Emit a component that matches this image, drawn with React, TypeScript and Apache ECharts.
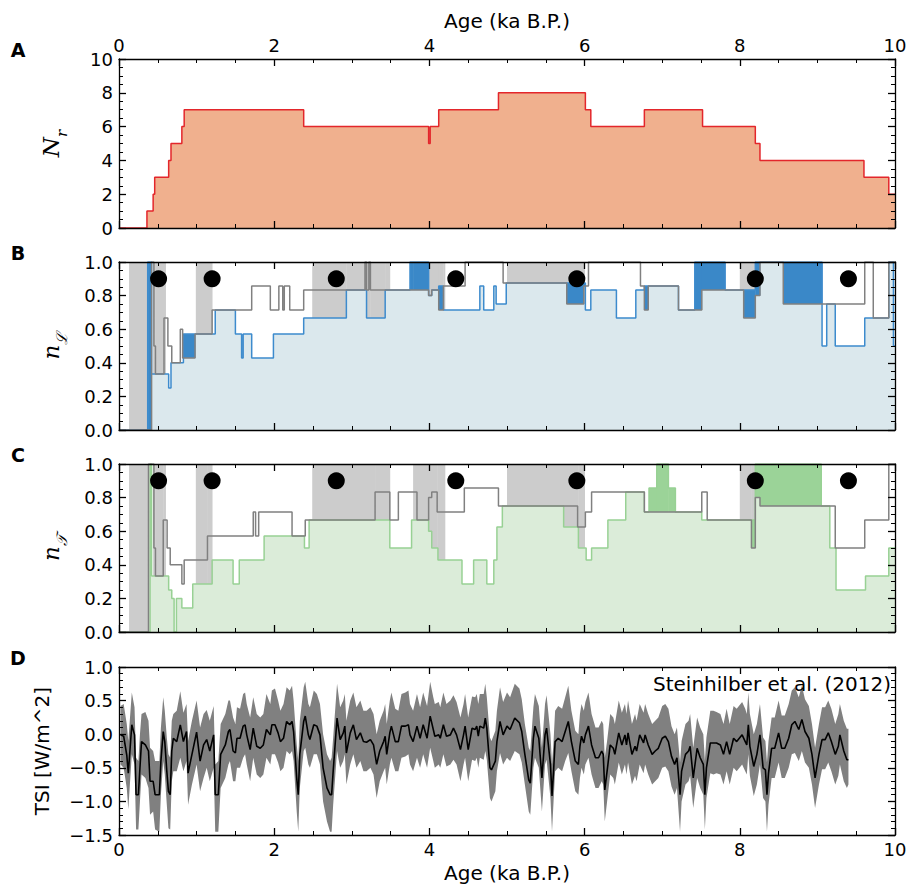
import React, { useEffect, useRef } from 'react';
import * as echarts from 'echarts';

// ---------- Panel A: number of records N_r (step function) ----------
const nrAges = [0, 0.36, 0.44, 0.46, 0.64, 0.67, 0.81, 0.84, 2.38, 3.99, 4.01, 4.12, 4.89, 6.01, 6.08, 6.77, 7.52, 8.2, 8.26, 9.6, 9.92, 10];
const nrVals = [0, 1, 2, 3, 4, 5, 6, 7, 6, 5, 6, 7, 8, 7, 6, 7, 6, 5, 4, 3, 2, 2];

// ---------- Panel B: n_L (blue) and reference (grey) ----------
const blueAges = [0, 0.37, 0.42, 0.64, 0.67, 0.83, 1.24, 1.5, 1.58, 1.6, 1.71, 1.99, 2.38, 2.93, 3.19, 3.43, 3.75, 3.99, 4.03, 4.12, 4.18, 4.65, 4.7, 4.83, 4.86, 4.99, 6.01, 6.08, 6.41, 6.66, 6.77, 7.21, 7.42, 7.81, 8.2, 9.06, 9.12, 9.23, 9.61, 9.92, 9.98, 10];
const blueVals = [0, 1, 0.333, 0.25, 0.4, 0.571, 0.714, 0.571, 0.429, 0.571, 0.429, 0.571, 0.667, 0.833, 0.667, 0.833, 1, 0.8, 0.833, 0.857, 0.714, 0.857, 0.714, 0.857, 0.75, 0.875, 0.714, 0.833, 0.667, 0.833, 0.857, 0.714, 1, 0.833, 1, 0.5, 0.75, 0.5, 0.667, 1, 0.5, 0.5];
const greyBAges = [0, 0.42, 0.45, 0.47, 0.58, 0.63, 0.68, 0.79, 0.82, 0.98, 1.2, 1.71, 1.95, 2.06, 2.11, 2.13, 2.2, 2.38, 3.17, 3.19, 3.22, 3.24, 3.99, 4.03, 4.12, 4.18, 4.46, 4.95, 5.77, 5.99, 6.05, 6.72, 6.77, 6.82, 7.21, 7.51, 8.05, 8.2, 8.26, 8.56, 9.61, 9.72, 9.92, 10];
const greyBVals = [0, 1, 0.5, 0.333, 0.667, 0.5, 0.4, 0.6, 0.429, 0.571, 0.714, 0.857, 0.714, 0.857, 0.714, 0.857, 0.714, 0.833, 1, 0.833, 1, 0.833, 0.8, 0.833, 0.714, 0.857, 1, 0.875, 0.75, 0.857, 1, 0.857, 0.714, 0.857, 0.714, 0.833, 0.667, 0.8, 1, 0.75, 1, 0.667, 1, 1];

// ---------- Panel C: n_T (green) and reference (grey) ----------
const greenAges = [0, 0.4, 0.42, 0.64, 0.68, 0.71, 0.74, 0.81, 0.95, 1.2, 1.47, 1.55, 1.87, 2.39, 2.45, 3.49, 3.77, 3.99, 4.03, 4.11, 4.42, 4.57, 4.74, 4.83, 4.87, 4.94, 5.73, 5.92, 6.02, 6.09, 6.3, 6.53, 6.77, 6.83, 6.93, 7.08, 7.17, 7.51, 8.2, 9.05, 9.16, 9.24, 9.62, 9.92, 10];
const greenVals = [0, 1, 0.333, 0.25, 0.2, 0, 0.2, 0.143, 0.286, 0.429, 0.286, 0.429, 0.571, 0.5, 0.667, 0.5, 0.667, 0.6, 0.5, 0.429, 0.286, 0.429, 0.286, 0.429, 0.625, 0.75, 0.625, 0.5, 0.429, 0.5, 0.667, 0.833, 0.714, 0.857, 1, 0.857, 0.714, 0.667, 1, 0.75, 0.5, 0.25, 0.333, 0.5, 0.5];
const greyCAges = [0, 0.38, 0.45, 0.47, 0.57, 0.62, 0.66, 0.81, 0.84, 1.14, 1.73, 1.76, 1.8, 2.23, 2.4, 3.3, 3.49, 3.6, 3.84, 3.99, 4.03, 4.1, 4.45, 4.89, 5.91, 6.01, 6.09, 6.77, 7.51, 7.58, 8.15, 8.2, 8.26, 9.23, 9.61, 9.92, 10];
const greyCVals = [0, 1, 0.5, 0.333, 0.667, 0.5, 0.4, 0.286, 0.429, 0.571, 0.714, 0.571, 0.714, 0.571, 0.667, 0.833, 0.667, 0.833, 0.667, 0.8, 0.833, 0.714, 0.857, 0.75, 0.625, 0.714, 0.833, 0.714, 0.833, 0.667, 0.5, 0.8, 0.75, 0.5, 0.667, 1, 1];

// shaded (grey) periods and event markers, shared by B and C
const greyPeriods: [number, number][] = [[0.13, 0.38], [0.44, 0.6], [0.99, 1.2], [2.49, 3.49], [3.79, 4.2], [5.0, 6.0], [8.0, 8.22]];
const dotAges = [0.51, 1.2, 2.8, 4.34, 5.9, 8.2, 9.4];
const dotLevel = 0.9;

// ---------- Panel D: TSI reconstruction ----------
const tsiAge = [0.02, 0.06, 0.1, 0.12, 0.165, 0.2, 0.22, 0.25, 0.27, 0.29, 0.34, 0.38, 0.4, 0.44, 0.465, 0.52, 0.54, 0.57, 0.59, 0.616, 0.637, 0.66, 0.68, 0.7, 0.744, 0.79, 0.83, 0.87, 0.89, 0.94, 1.0, 1.045, 1.09, 1.13, 1.17, 1.22, 1.24, 1.28, 1.31, 1.37, 1.41, 1.43, 1.47, 1.5, 1.52, 1.56, 1.6, 1.625, 1.646, 1.69, 1.73, 1.775, 1.82, 1.86, 1.9, 1.95, 1.97, 2.01, 2.05, 2.08, 2.12, 2.16, 2.2, 2.23, 2.25, 2.29, 2.31, 2.33, 2.38, 2.4, 2.44, 2.46, 2.51, 2.55, 2.59, 2.63, 2.68, 2.72, 2.74, 2.76, 2.81, 2.85, 2.89, 2.91, 2.93, 2.98, 3.02, 3.06, 3.11, 3.15, 3.19, 3.24, 3.28, 3.32, 3.36, 3.41, 3.43, 3.45, 3.49, 3.51, 3.56, 3.6, 3.64, 3.69, 3.73, 3.75, 3.79, 3.84, 3.88, 3.92, 3.97, 4.01, 4.05, 4.07, 4.12, 4.14, 4.18, 4.22, 4.27, 4.31, 4.35, 4.4, 4.44, 4.46, 4.5, 4.55, 4.59, 4.61, 4.63, 4.65, 4.7, 4.72, 4.74, 4.78, 4.8, 4.85, 4.87, 4.91, 4.95, 5.0, 5.04, 5.1, 5.16, 5.19, 5.23, 5.28, 5.3, 5.34, 5.36, 5.41, 5.45, 5.49, 5.51, 5.56, 5.58, 5.6, 5.62, 5.66, 5.71, 5.75, 5.79, 5.83, 5.88, 5.92, 5.94, 5.96, 5.99, 6.01, 6.05, 6.09, 6.14, 6.18, 6.22, 6.24, 6.26, 6.29, 6.33, 6.37, 6.39, 6.44, 6.48, 6.52, 6.54, 6.56, 6.61, 6.65, 6.67, 6.71, 6.76, 6.78, 6.82, 6.87, 6.91, 6.95, 7.0, 7.04, 7.08, 7.12, 7.16, 7.19, 7.23, 7.25, 7.3, 7.34, 7.36, 7.4, 7.45, 7.49, 7.53, 7.55, 7.57, 7.62, 7.66, 7.7, 7.75, 7.79, 7.83, 7.87, 7.92, 7.96, 8.03, 8.07, 8.09, 8.11, 8.13, 8.18, 8.22, 8.26, 8.3, 8.33, 8.35, 8.37, 8.41, 8.45, 8.5, 8.54, 8.58, 8.63, 8.67, 8.71, 8.76, 8.8, 8.84, 8.89, 8.93, 8.97, 9.02, 9.06, 9.1, 9.14, 9.18, 9.23, 9.27, 9.29, 9.34, 9.38, 9.4];
const tsiMean = [-0.01, -0.03, -0.31, -0.58, 0.14, -0.01, -0.9, -0.9, -0.5, -0.11, -0.16, -0.25, -0.7, -0.7, -0.9, -0.9, -0.4, 0.04, -0.11, -0.55, -0.85, -0.9, -0.25, -0.06, -0.11, 0.14, -0.11, 0.04, -0.58, -0.3, 0.03, -0.4, -0.16, -0.08, -0.25, -0.01, -0.9, -0.9, -0.3, -0.16, 0.04, 0.07, -0.25, -0.28, -0.06, -0.06, 0.12, 0.14, -0.01, -0.23, 0.09, -0.18, -0.21, -0.16, 0.07, -0.01, 0.14, 0.14, 0.02, -0.11, -0.06, 0.19, 0.14, 0.19, 0.04, -0.65, -0.9, -0.3, 0.19, 0.27, -0.01, -0.08, 0.14, 0.12, -0.01, -0.5, -0.8, -0.9, -0.9, -0.55, 0.24, -0.08, 0.02, 0.12, -0.28, 0.02, 0.14, -0.08, 0.02, -0.11, -0.12, -0.08, -0.16, -0.45, -0.25, -0.11, -0.03, -0.3, 0.02, 0.12, -0.11, -0.11, 0.12, 0.12, 0.14, -0.01, -0.11, 0.12, -0.06, 0.14, -0.06, 0.27, 0.07, -0.03, -0.01, -0.06, 0.14, -0.03, -0.01, 0.09, -0.01, -0.23, -0.01, 0.12, -0.23, 0.09, 0.07, 0.12, -0.03, 0.12, 0.09, 0.24, 0.09, -0.5, -0.53, -0.4, -0.11, 0.19, -0.01, 0.12, 0.07, 0.24, 0.17, 0.04, -0.3, -0.68, -0.73, -0.06, 0.12, -0.06, -0.65, -0.01, 0.09, -0.45, -0.92, -0.55, -0.11, -0.06, -0.11, 0.04, 0.19, -0.11, -0.4, -0.45, -0.18, -0.03, -0.13, -0.01, 0.12, -0.16, -0.35, -0.35, -0.25, -0.3, -0.83, -0.55, -0.16, -0.21, -0.3, 0.02, -0.16, -0.01, -0.16, 0.02, -0.3, -0.18, -0.25, -0.01, -0.13, -0.01, -0.16, -0.3, -0.25, -0.21, -0.06, -0.03, -0.11, -0.33, -0.45, -0.35, -0.9, -0.55, -0.3, -0.25, -0.18, -0.65, -0.21, -0.35, -0.45, -0.9, -0.5, -0.13, -0.13, -0.13, -0.16, -0.3, -0.11, -0.3, -0.06, -0.11, -0.01, -0.11, -0.16, 0.14, -0.18, -0.48, -0.3, -0.01, -0.5, -0.53, -0.9, -0.58, -0.21, -0.21, 0.02, -0.21, -0.21, -0.06, 0.14, 0.19, 0.07, 0.22, 0.04, -0.06, -0.3, -0.65, -0.3, -0.08, -0.08, 0.02, -0.11, -0.3, -0.18, -0.01, -0.25, -0.38, -0.38];
const tsiUpper = [0.42, 0.45, 0.15, -0.1, 0.62, 0.4, -0.35, -0.4, 0.0, 0.3, 0.33, 0.2, -0.2, -0.25, -0.4, -0.4, 0.1, 0.55, 0.35, -0.05, -0.3, -0.35, 0.2, 0.3, 0.35, 0.64, 0.32, 0.45, -0.1, 0.2, 0.5, 0.1, 0.3, 0.36, 0.2, 0.42, -0.45, -0.4, 0.15, 0.3, 0.5, 0.5, 0.25, 0.15, 0.4, 0.38, 0.6, 0.62, 0.45, 0.25, 0.55, 0.3, 0.25, 0.3, 0.6, 0.45, 0.65, 0.68, 0.5, 0.35, 0.45, 0.7, 0.65, 0.72, 0.5, -0.15, -0.4, 0.2, 0.7, 0.78, 0.45, 0.4, 0.65, 0.6, 0.45, 0.0, -0.3, -0.4, -0.35, -0.05, 0.75, 0.4, 0.5, 0.6, 0.2, 0.5, 0.62, 0.4, 0.5, 0.35, 0.35, 0.4, 0.3, 0.0, 0.2, 0.35, 0.45, 0.15, 0.5, 0.62, 0.38, 0.35, 0.6, 0.62, 0.65, 0.45, 0.35, 0.6, 0.4, 0.62, 0.42, 0.78, 0.55, 0.45, 0.48, 0.4, 0.62, 0.45, 0.5, 0.58, 0.48, 0.25, 0.45, 0.6, 0.25, 0.56, 0.55, 0.6, 0.45, 0.6, 0.6, 0.75, 0.55, -0.05, -0.1, 0.05, 0.35, 0.7, 0.48, 0.62, 0.55, 0.75, 0.68, 0.52, 0.15, -0.2, -0.25, 0.4, 0.6, 0.42, -0.2, 0.45, 0.58, 0.0, -0.45, -0.1, 0.35, 0.42, 0.38, 0.55, 0.72, 0.35, 0.05, 0.0, 0.3, 0.45, 0.35, 0.48, 0.62, 0.3, 0.1, 0.1, 0.2, 0.15, -0.35, -0.1, 0.3, 0.25, 0.15, 0.5, 0.32, 0.45, 0.3, 0.5, 0.15, 0.3, 0.2, 0.45, 0.32, 0.45, 0.3, 0.15, 0.2, 0.25, 0.42, 0.45, 0.38, 0.12, 0.0, 0.1, -0.42, -0.1, 0.15, 0.2, 0.3, -0.2, 0.25, 0.1, 0.0, -0.4, -0.05, 0.35, 0.35, 0.33, 0.3, 0.15, 0.38, 0.15, 0.42, 0.38, 0.48, 0.38, 0.3, 0.62, 0.3, 0.0, 0.15, 0.45, -0.05, -0.1, -0.42, -0.1, 0.25, 0.25, 0.5, 0.28, 0.28, 0.45, 0.65, 0.7, 0.55, 0.72, 0.52, 0.42, 0.15, -0.2, 0.15, 0.4, 0.4, 0.5, 0.38, 0.15, 0.3, 0.45, 0.2, 0.08, 0.08];
const tsiLower = [-0.45, -0.5, -0.8, -1.12, -0.3, -0.45, -1.42, -1.42, -1.0, -0.6, -0.65, -0.8, -1.2, -1.15, -1.42, -1.45, -0.9, -0.4, -0.6, -1.05, -1.4, -1.42, -0.7, -0.55, -0.55, -0.35, -0.55, -0.4, -1.05, -0.75, -0.45, -0.85, -0.65, -0.5, -0.7, -0.5, -1.45, -1.45, -0.8, -0.65, -0.45, -0.4, -0.7, -0.7, -0.5, -0.5, -0.35, -0.3, -0.45, -0.7, -0.35, -0.6, -0.65, -0.6, -0.35, -0.45, -0.3, -0.3, -0.42, -0.55, -0.5, -0.25, -0.3, -0.25, -0.4, -1.15, -1.45, -0.8, -0.25, -0.2, -0.45, -0.5, -0.3, -0.3, -0.45, -1.0, -1.3, -1.45, -1.45, -1.05, -0.25, -0.5, -0.4, -0.3, -0.75, -0.45, -0.3, -0.5, -0.4, -0.55, -0.55, -0.5, -0.6, -0.95, -0.7, -0.55, -0.5, -0.75, -0.45, -0.35, -0.55, -0.55, -0.35, -0.33, -0.3, -0.45, -0.55, -0.35, -0.5, -0.3, -0.5, -0.2, -0.4, -0.5, -0.45, -0.5, -0.3, -0.48, -0.45, -0.38, -0.45, -0.7, -0.45, -0.35, -0.7, -0.38, -0.4, -0.35, -0.5, -0.35, -0.38, -0.25, -0.38, -0.95, -1.0, -0.85, -0.55, -0.28, -0.45, -0.35, -0.4, -0.25, -0.3, -0.42, -0.75, -1.15, -1.2, -0.5, -0.35, -0.5, -1.15, -0.45, -0.38, -0.95, -1.45, -1.0, -0.55, -0.5, -0.55, -0.4, -0.28, -0.55, -0.85, -0.9, -0.65, -0.5, -0.6, -0.45, -0.35, -0.6, -0.8, -0.8, -0.7, -0.75, -1.3, -1.0, -0.6, -0.65, -0.75, -0.42, -0.6, -0.45, -0.6, -0.42, -0.75, -0.62, -0.7, -0.45, -0.58, -0.45, -0.6, -0.75, -0.7, -0.65, -0.5, -0.48, -0.55, -0.78, -0.9, -0.8, -1.45, -1.0, -0.75, -0.7, -0.62, -1.1, -0.65, -0.8, -0.9, -1.42, -0.95, -0.58, -0.6, -0.58, -0.6, -0.75, -0.55, -0.75, -0.5, -0.55, -0.45, -0.55, -0.6, -0.3, -0.62, -0.92, -0.75, -0.45, -0.95, -1.0, -1.45, -1.05, -0.65, -0.65, -0.42, -0.65, -0.65, -0.5, -0.3, -0.28, -0.4, -0.25, -0.42, -0.5, -0.75, -1.1, -0.75, -0.52, -0.52, -0.42, -0.55, -0.75, -0.62, -0.45, -0.7, -0.8, -0.75];

// ---------- axes / labels ----------
const ageLabel = 'Age (ka B.P.)';
const panelLetters = ['A', 'B', 'C', 'D'];
const sourceNote = 'Steinhilber et al. (2012)';

const FONT = 'DejaVu Sans';
const AX = '#000';
const TICK_FS = 18;
const NAME_FS = 20;
const GRID_TOPS = [59, 262, 464, 667];
const GRID_HEIGHTS = [169, 168, 168, 168];

function valueAt(ages: number[], vals: number[], x: number) {
  let v = vals[0];
  for (let i = 0; i < ages.length; i++) {
    if (ages[i] <= x) v = vals[i];
    else break;
  }
  return v;
}

function buildFills(cA: number[], cV: number[], gA: number[], gV: number[], periods: [number, number][]) {
  const xs = Array.from(new Set([...cA, ...gA, ...periods.flat()])).sort((a, b) => a - b);
  const dark: number[][] = [];
  const shade: number[][] = [];
  for (let i = 0; i < xs.length - 1; i++) {
    const a = xs[i], b = xs[i + 1];
    if (b <= a) continue;
    const m = (a + b) / 2;
    const c = valueAt(cA, cV, m);
    const g = valueAt(gA, gV, m);
    if (c > g) dark.push([a, b, g, c]);
    if (periods.some(([s, e]) => m > s && m < e) && c < 1) shade.push([a, b, c, 1]);
  }
  return { dark, shade };
}

const pairs = (a: number[], v: number[]) => a.map((x, i) => [x, v[i]]);

function rectSeries(data: number[][], color: string, axis: number, z: number) {
  return {
    type: 'custom',
    xAxisIndex: axis * 2,
    yAxisIndex: axis * 2,
    data,
    z,
    silent: true,
    encode: { x: [0, 1], y: [2, 3] },
    renderItem: (_p: any, api: any) => {
      const p0 = api.coord([api.value(0), api.value(3)]);
      const p1 = api.coord([api.value(1), api.value(2)]);
      return {
        type: 'rect',
        shape: { x: p0[0], y: p0[1], width: p1[0] - p0[0] + 0.4, height: p1[1] - p0[1] },
        style: { fill: color },
      };
    },
  };
}

function mkX(grid: number, pos: 'top' | 'bottom', labels: boolean) {
  return {
    type: 'value', gridIndex: grid, position: pos, min: 0, max: 10, interval: 2, z: 10,
    axisLine: { show: true, onZero: false, lineStyle: { color: AX, width: 1.3 } },
    axisTick: { show: true, inside: true, length: 7, lineStyle: { color: AX, width: 1.3 } },
    minorTick: { show: true, splitNumber: 4, length: 4, lineStyle: { color: AX, width: 1 } },
    splitLine: { show: false },
    axisLabel: { show: labels, fontSize: TICK_FS, color: AX, fontFamily: FONT, margin: 5 },
    name: labels ? ageLabel : '',
    nameLocation: 'middle',
    nameGap: 28,
    nameTextStyle: { fontSize: NAME_FS, color: AX, fontFamily: FONT },
  };
}

function mkY(grid: number, pos: 'left' | 'right', labels: boolean, min: number, max: number, interval: number,
  minorSplit: number, fmt: (v: number) => string, name = '', nameGap = 50, rich: any = undefined) {
  return {
    type: 'value', gridIndex: grid, position: pos, min, max, interval, z: 10,
    axisLine: { show: true, onZero: false, lineStyle: { color: AX, width: 1.3 } },
    axisTick: { show: true, inside: true, length: 7, lineStyle: { color: AX, width: 1.3 } },
    minorTick: { show: true, splitNumber: minorSplit, length: 4, lineStyle: { color: AX, width: 1 } },
    splitLine: { show: false },
    axisLabel: { show: labels, fontSize: TICK_FS, color: AX, fontFamily: FONT, margin: 6, formatter: fmt },
    name: labels ? name : '',
    nameLocation: 'middle',
    nameRotate: 90,
    nameGap,
    nameTextStyle: { fontSize: NAME_FS, color: AX, fontFamily: FONT, rich },
  };
}

const fmt1 = (v: number) => (v < 0 ? '\u2212' + Math.abs(v).toFixed(1) : v.toFixed(1));
const fmt0 = (v: number) => String(Math.round(v));

const richName = {
  i: { fontSize: 23, fontStyle: 'italic', fontFamily: 'DejaVu Serif', color: AX, lineHeight: 30, verticalAlign: 'top' },
  s: { fontSize: 15, fontStyle: 'italic', fontFamily: 'DejaVu Serif', color: AX, lineHeight: 30, verticalAlign: 'bottom' },
};

export default function App() {
  const ref = useRef<HTMLDivElement>(null);
  useEffect(() => {
    if (!ref.current) return;
    const chart = echarts.init(ref.current, undefined, { renderer: 'svg' });

    const fillB = buildFills(blueAges, blueVals, greyBAges, greyBVals, greyPeriods);
    const fillC = buildFills(greenAges, greenVals, greyCAges, greyCVals, greyPeriods);

    const grids = GRID_TOPS.map((t, i) => ({ left: 119, width: 776, top: t, height: GRID_HEIGHTS[i], containLabel: false }));

    const xAxis = [
      mkX(0, 'bottom', false), mkX(0, 'top', true),
      mkX(1, 'bottom', false), mkX(1, 'top', false),
      mkX(2, 'bottom', false), mkX(2, 'top', false),
      mkX(3, 'bottom', true), mkX(3, 'top', false),
    ];
    const yAxis = [
      mkY(0, 'left', true, 0, 10, 2, 4, fmt0, '{i|N}{s|r}', 50, richName), mkY(0, 'right', false, 0, 10, 2, 4, fmt0),
      mkY(1, 'left', true, 0, 1, 0.2, 4, fmt1, '{i|n}{s|\u2112}', 50, richName), mkY(1, 'right', false, 0, 1, 0.2, 4, fmt1),
      mkY(2, 'left', true, 0, 1, 0.2, 4, fmt1, '{i|n}{s|\uD835\uDCAF}', 50, richName), mkY(2, 'right', false, 0, 1, 0.2, 4, fmt1),
      mkY(3, 'left', true, -1.5, 1.0, 0.5, 5, fmt1, 'TSI [W/m^2]', 67), mkY(3, 'right', false, -1.5, 1.0, 0.5, 5, fmt1),
    ];

    const stepLine = (data: number[][], axis: number, color: string, z: number, width = 1.5) => ({
      type: 'line', xAxisIndex: axis * 2, yAxisIndex: axis * 2, data, step: 'end', showSymbol: false, symbol: 'none',
      lineStyle: { color, width }, z, silent: true,
    });
    const stepArea = (data: number[][], axis: number, color: string, z: number) => ({
      type: 'line', xAxisIndex: axis * 2, yAxisIndex: axis * 2, data, step: 'end', showSymbol: false, symbol: 'none',
      lineStyle: { width: 0, opacity: 0 }, areaStyle: { color, opacity: 1 }, z, silent: true,
    });
    const dots = (axis: number) => ({
      type: 'scatter', xAxisIndex: axis * 2, yAxisIndex: axis * 2, data: dotAges.map((a) => [a, dotLevel]),
      symbolSize: 17, itemStyle: { color: '#000', opacity: 1 }, z: 8, silent: true,
    });

    const series: any[] = [
      // Panel A
      stepArea(pairs(nrAges, nrVals), 0, '#f0b08e', 1),
      stepLine(pairs(nrAges, nrVals), 0, '#e3262b', 3),
      // Panel B
      stepArea(pairs(blueAges, blueVals), 1, '#dbe8ed', 1),
      rectSeries(fillB.shade, '#cccccc', 1, 2),
      rectSeries(fillB.dark, '#3a88c8', 1, 3),
      stepLine(pairs(blueAges, blueVals), 1, '#3d8bcd', 4),
      stepLine(pairs(greyBAges, greyBVals), 1, '#808080', 5),
      dots(1),
      // Panel C
      stepArea(pairs(greenAges, greenVals), 2, '#dbecd9', 1),
      rectSeries(fillC.shade, '#cccccc', 2, 2),
      rectSeries(fillC.dark, '#9bd398', 2, 3),
      stepLine(pairs(greenAges, greenVals), 2, '#98d194', 4),
      stepLine(pairs(greyCAges, greyCVals), 2, '#808080', 5),
      dots(2),
      // Panel D
      {
        type: 'custom', xAxisIndex: 6, yAxisIndex: 6, z: 2, silent: true,
        data: tsiAge.map((a, i) => [a, tsiUpper[i], tsiLower[i]]),
        encode: { x: 0, y: [1, 2] },
        renderItem: (p: any, api: any) => {
          if (p.dataIndex !== 0) return null;
          const pts: number[][] = [];
          for (let i = 0; i < tsiAge.length; i++) pts.push(api.coord([tsiAge[i], tsiUpper[i]]));
          for (let i = tsiAge.length - 1; i >= 0; i--) pts.push(api.coord([tsiAge[i], tsiLower[i]]));
          return { type: 'polygon', shape: { points: pts }, style: { fill: '#808080' } };
        },
      },
      {
        type: 'line', xAxisIndex: 6, yAxisIndex: 6, data: pairs(tsiAge, tsiMean), showSymbol: false, symbol: 'none',
        lineStyle: { color: '#000', width: 1.6 }, z: 4, silent: true,
      },
    ];

    const graphic: any[] = panelLetters.map((l, i) => ({
      type: 'text', x: 18, y: GRID_TOPS[i] - 9, z: 20,
      style: { text: l, fill: '#000', fontSize: 19, fontWeight: 'bold', fontFamily: FONT, align: 'center', verticalAlign: 'middle' },
    }));
    graphic.push({
      type: 'text', x: 891, y: 684, z: 20,
      style: { text: sourceNote, fill: '#000', fontSize: 20, fontFamily: FONT, align: 'right', verticalAlign: 'middle' },
    });

    chart.setOption({
      animation: false,
      backgroundColor: '#fff',
      grid: grids,
      xAxis,
      yAxis,
      series,
      graphic,
    });
    return () => chart.dispose();
  }, []);
  return <div ref={ref} style={{ position: 'fixed', left: 0, top: 0, width: 912, height: 889 }} />;
}
